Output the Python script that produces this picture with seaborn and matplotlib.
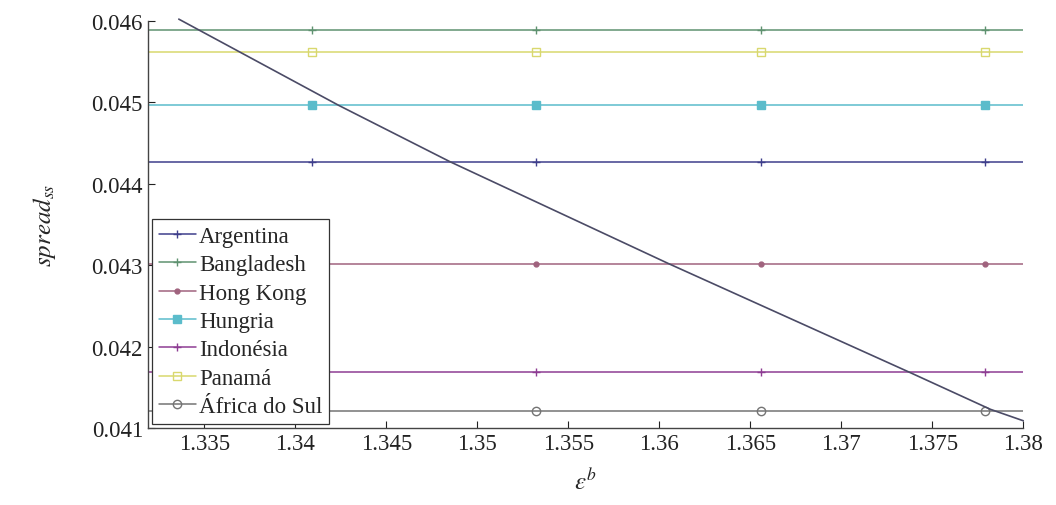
import numpy as np
import pandas as pd
import matplotlib
matplotlib.use("Agg")
import matplotlib.pyplot as plt
import seaborn as sns

# Steady-state spread per country (constant in epsilon^b)
countries = ["Argentina", "Bangladesh", "Hong Kong", "Hungria",
             "Indonésia", "Panamá", "África do Sul"]
spread_levels = [0.04427, 0.04589, 0.04302, 0.04496, 0.04169, 0.04562, 0.04121]
country_colors = ["#3f3f8c", "#5f9270", "#a0637e", "#5bbccb",
                  "#8e3d93", "#d9d86e", "#747474"]
country_markers = ["+", "+", ".", "s", "+", "s", "o"]
marker_filled = [True, True, True, True, True, False, False]

# epsilon^b positions where the country markers sit
marker_eps = [1.3409, 1.3532, 1.3656, 1.3779]

# Model curve: spread_ss as a function of epsilon^b
curve_eps = [1.3336, 1.3424, 1.3485, 1.3605, 1.3737, 1.3782, 1.3800]
curve_spread = [0.04602, 0.04496, 0.04427, 0.04302, 0.04169, 0.04123, 0.04109]

x_ticks = [1.335, 1.34, 1.345, 1.35, 1.355, 1.36, 1.365, 1.37, 1.375, 1.38]
y_ticks = [0.041, 0.042, 0.043, 0.044, 0.045, 0.046]
x_limits = (1.3319, 1.3800)
y_limits = (0.041, 0.046)

sns.set_theme(style="ticks")
plt.rcParams["font.family"] = ["Liberation Serif", "DejaVu Serif"]
plt.rcParams["mathtext.fontset"] = "stix"

fig = plt.figure(figsize=(10.56, 5.06), dpi=100)
ax = fig.add_axes([0.140, 0.152, 0.829, 0.805])

for name, level, color, mk, filled in zip(countries, spread_levels, country_colors,
                                          country_markers, marker_filled):
    xs = [x_limits[0]] + marker_eps + [x_limits[1]]
    df = pd.DataFrame({"eps": xs, "spread": [level] * len(xs)})
    sns.lineplot(data=df, x="eps", y="spread", ax=ax, color=color, linewidth=1.1,
                 marker=mk, markersize=6 if mk != "." else 7,
                 markerfacecolor=color if filled else "none",
                 markeredgecolor=color, markeredgewidth=1.0,
                 markevery=list(range(1, len(xs) - 1)), label=name,
                 sort=False, estimator=None)

curve = pd.DataFrame({"eps": curve_eps, "spread": curve_spread})
sns.lineplot(data=curve, x="eps", y="spread", ax=ax, color="#4b4b66",
             linewidth=1.2, sort=False, estimator=None, legend=False,
             clip_on=False)

ax.set_xlim(*x_limits)
ax.set_ylim(*y_limits)
ax.set_xticks(x_ticks)
ax.set_xticklabels([f"{t:g}" for t in x_ticks])
ax.set_yticks(y_ticks)
ax.set_yticklabels([f"{t:.3f}" for t in y_ticks])
ax.tick_params(direction="in", length=5, width=0.8, labelsize=16.5, colors="#222222")
for side in ["top", "right"]:
    ax.spines[side].set_visible(False)
for side in ["left", "bottom"]:
    ax.spines[side].set_color("#444444")
    ax.spines[side].set_linewidth(1.0)

ax.set_xlabel(r"$\varepsilon^{b}$", fontsize=18, labelpad=10)
ax.set_ylabel(r"$spread_{ss}$", fontsize=18, labelpad=24)

leg = ax.legend(loc="lower left", bbox_to_anchor=(0.005, 0.01), fontsize=16.5,
                frameon=True, fancybox=False, edgecolor="#333333",
                handlelength=1.6, handletextpad=0.15, borderpad=0.3,
                labelspacing=0.32, borderaxespad=0.0)
leg.get_frame().set_linewidth(0.9)
leg.get_frame().set_alpha(1.0)

fig.savefig("out.png", dpi=100)
